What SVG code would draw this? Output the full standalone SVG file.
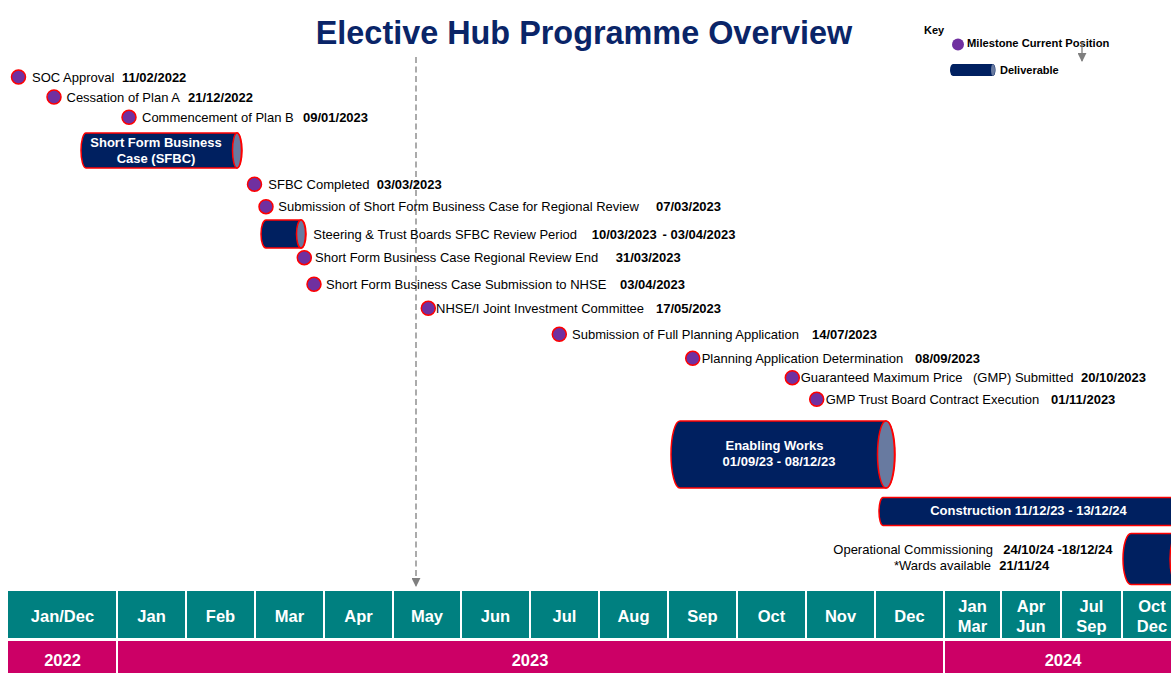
<svg xmlns="http://www.w3.org/2000/svg" width="1171" height="673" viewBox="0 0 1171 673">
<defs>
<style>
.t{font-family:"Liberation Sans",Arial,sans-serif;font-size:13px;fill:#000}
.b{font-weight:bold}
.ms{fill:#7030A0;stroke:#FF0000;stroke-width:1.5}
.body{fill:#002060;stroke:#FF0000;stroke-width:1.5}
.cap{fill:#687AA0;stroke:#FF0000;stroke-width:1.5}
.wt{font-family:"Liberation Sans",Arial,sans-serif;font-size:13px;font-weight:bold;fill:#fff;text-anchor:middle}
.mo{font-family:"Liberation Sans",Arial,sans-serif;font-size:16.5px;font-weight:bold;fill:#fff;text-anchor:middle}
.teal{fill:#008080}
.mag{fill:#CC0066}
</style>
<marker id="ah" viewBox="0 0 10 10" refX="9" refY="5" markerWidth="4" markerHeight="4" orient="auto" markerUnits="userSpaceOnUse">
<path d="M0,0 L10,5 L0,10 Z" fill="#7F7F7F"/>
</marker>
<marker id="ah2" viewBox="0 0 10 10" refX="9" refY="5" markerWidth="9" markerHeight="9" orient="auto" markerUnits="userSpaceOnUse">
<path d="M0,0 L10,5 L0,10 Z" fill="#7F7F7F"/>
</marker>
</defs>
<rect width="1171" height="673" fill="#fff"/>
<text x="584" y="44" text-anchor="middle" font-family="Liberation Sans, Arial, sans-serif" font-size="32.4" font-weight="bold" fill="#0A2568">Elective Hub Programme Overview</text>

<g id="key">
<text x="924" y="34" font-family="Liberation Sans, Arial, sans-serif" font-size="11" font-weight="bold">Key</text>
<circle cx="958" cy="44.5" r="6" fill="#7030A0"/>
<text x="967" y="47" font-family="Liberation Sans, Arial, sans-serif" font-size="11.2" font-weight="bold">Milestone Current Position</text>
<line x1="1082" y1="42" x2="1082" y2="61" stroke="#7F7F7F" stroke-width="1.3" marker-end="url(#ah2)"/>
<path d="M953,64 L993,64 A2.5,6 0 0 1 993,76 L953,76 A3,6 0 0 1 953,64 Z" fill="#002060"/>
<ellipse cx="993" cy="70" rx="2" ry="6" fill="#687AA0"/>
<text x="1000" y="73.5" font-family="Liberation Sans, Arial, sans-serif" font-size="11" font-weight="bold">Deliverable</text>
</g>

<g id="connectors">
<line x1="416" y1="57" x2="416" y2="586" stroke="#7F7F7F" stroke-width="1.3" stroke-dasharray="6,3.5" marker-end="url(#ah2)"/>
</g>

<g id="m1"><circle class="ms" cx="18.5" cy="77" r="7"/><text class="t" x="32" y="81.5">SOC Approval</text><text class="t b" x="122" y="81.5">11/02/2022</text></g>
<g id="m2"><circle class="ms" cx="54" cy="97" r="7"/><text class="t" x="66.5" y="101.5">Cessation of Plan A</text><text class="t b" x="188" y="101.5">21/12/2022</text></g>
<g id="m3"><circle class="ms" cx="129" cy="117.3" r="7"/><text class="t" x="142" y="121.5">Commencement of Plan B</text><text class="t b" x="303" y="121.5">09/01/2023</text></g>

<g id="sfbc">
<path class="body" d="M86,133 L237,133 A5,17.5 0 0 1 237,168 L86,168 A5,17.5 0 0 1 86,133 Z"/>
<ellipse class="cap" cx="237" cy="150.5" rx="4.5" ry="17.5"/>
<text class="wt" x="156" y="146.5">Short Form Business</text>
<text class="wt" x="156" y="162.5">Case (SFBC)</text>
</g>

<g id="m4"><circle class="ms" cx="254.5" cy="184.3" r="7"/><text class="t" x="268.3" y="188.7">SFBC Completed</text><text class="t b" x="376.7" y="188.7">03/03/2023</text></g>
<g id="m5"><circle class="ms" cx="266" cy="206.7" r="7"/><text class="t" x="278.3" y="211.2">Submission of Short Form Business Case for Regional Review</text><text class="t b" x="656" y="211.2">07/03/2023</text></g>

<g id="steering">
<path class="body" d="M266,220 L301,220 A5,14 0 0 1 301,248 L266,248 A5,14 0 0 1 266,220 Z"/>
<ellipse class="cap" cx="301" cy="234" rx="4.5" ry="14"/>
<text class="t" x="313.3" y="238.5">Steering &amp; Trust Boards SFBC Review Period</text>
<text class="t b" x="591.7" y="238.5">10/03/2023<tspan x="662.5">- 03/04/2023</tspan></text>
</g>

<g id="m6"><circle class="ms" cx="304.3" cy="257.7" r="7"/><text class="t" x="315" y="262.2">Short Form Business Case Regional Review End</text><text class="t b" x="615.7" y="262.2">31/03/2023</text></g>
<g id="m7"><circle class="ms" cx="314" cy="284.3" r="7"/><text class="t" x="326" y="288.8">Short Form Business Case Submission to NHSE</text><text class="t b" x="620" y="288.8">03/04/2023</text></g>
<g id="m8"><circle class="ms" cx="428.3" cy="308.3" r="7"/><text class="t" x="436" y="312.8">NHSE/I Joint Investment Committee</text><text class="t b" x="656" y="312.8">17/05/2023</text></g>
<g id="m9"><circle class="ms" cx="559.3" cy="334.3" r="7"/><text class="t" x="572" y="338.8">Submission of Full Planning Application</text><text class="t b" x="812" y="338.8">14/07/2023</text></g>
<g id="m10"><circle class="ms" cx="692.7" cy="358.3" r="7"/><text class="t" x="701.7" y="362.8">Planning Application Determination</text><text class="t b" x="915" y="362.8">08/09/2023</text></g>
<g id="m11"><circle class="ms" cx="792.3" cy="377.7" r="7"/><text class="t" x="800.7" y="382.2">Guaranteed Maximum Price<tspan x="973">(GMP) Submitted</tspan></text><text class="t b" x="1081" y="382.2">20/10/2023</text></g>
<g id="m12"><circle class="ms" cx="816.7" cy="399.3" r="7"/><text class="t" x="825.7" y="403.8">GMP Trust Board Contract Execution</text><text class="t b" x="1051" y="403.8">01/11/2023</text></g>

<g id="enabling">
<path class="body" d="M680,421 L886,421 A9,33.5 0 0 1 886,488 L680,488 A9,33.5 0 0 1 680,421 Z"/>
<ellipse class="cap" cx="886" cy="454.5" rx="8.5" ry="33.5"/>
<text class="wt" x="774.5" y="450">Enabling Works</text>
<text class="wt" x="779" y="466">01/09/23 - 08/12/23</text>
</g>

<g id="construction">
<path class="body" d="M883,497.5 L1185,497.5 L1185,525.5 L883,525.5 A4,14 0 0 1 883,497.5 Z"/>
<text class="wt" x="1028.5" y="515">Construction 11/12/23  - 13/12/24</text>
</g>

<g id="operational">
<path class="body" d="M1131,533.5 L1178,533.5 A8,25.5 0 0 1 1178,584.5 L1131,584.5 A8,25.5 0 0 1 1131,533.5 Z"/>
<ellipse class="cap" cx="1178" cy="559" rx="8" ry="25.5"/>
<text class="t" x="833.3" y="554">Operational Commissioning</text>
<text class="t b" x="1003.3" y="554">24/10/24 -18/12/24</text>
<text class="t" x="894" y="570">*Wards available</text>
<text class="t b" x="999.3" y="570">21/11/24</text>
</g>

<g id="timeline">
<rect class="teal" x="8" y="591" width="1170" height="47"/>
<g stroke="#fff" stroke-width="2">
<line x1="117" y1="590" x2="117" y2="640"/>
<line x1="186" y1="590" x2="186" y2="640"/>
<line x1="255" y1="590" x2="255" y2="640"/>
<line x1="324" y1="590" x2="324" y2="640"/>
<line x1="393" y1="590" x2="393" y2="640"/>
<line x1="461" y1="590" x2="461" y2="640"/>
<line x1="530" y1="590" x2="530" y2="640"/>
<line x1="599" y1="590" x2="599" y2="640"/>
<line x1="668" y1="590" x2="668" y2="640"/>
<line x1="737" y1="590" x2="737" y2="640"/>
<line x1="806" y1="590" x2="806" y2="640"/>
<line x1="875" y1="590" x2="875" y2="640"/>
<line x1="944" y1="590" x2="944" y2="640"/>
<line x1="1001" y1="590" x2="1001" y2="640"/>
<line x1="1061" y1="590" x2="1061" y2="640"/>
<line x1="1122" y1="590" x2="1122" y2="640"/>
</g>
<text class="mo" x="62.5" y="622">Jan/Dec</text>
<text class="mo" x="151.5" y="622">Jan</text>
<text class="mo" x="220.5" y="622">Feb</text>
<text class="mo" x="289.5" y="622">Mar</text>
<text class="mo" x="358.5" y="622">Apr</text>
<text class="mo" x="427" y="622">May</text>
<text class="mo" x="495.5" y="622">Jun</text>
<text class="mo" x="564.5" y="622">Jul</text>
<text class="mo" x="633.5" y="622">Aug</text>
<text class="mo" x="702.5" y="622">Sep</text>
<text class="mo" x="771.5" y="622">Oct</text>
<text class="mo" x="840.5" y="622">Nov</text>
<text class="mo" x="909.5" y="622">Dec</text>
<text class="mo" x="972.5" y="612">Jan<tspan x="972.5" y="632">Mar</tspan></text>
<text class="mo" x="1031" y="612">Apr<tspan x="1031" y="632">Jun</tspan></text>
<text class="mo" x="1091.5" y="612">Jul<tspan x="1091.5" y="632">Sep</tspan></text>
<text class="mo" x="1152" y="612">Oct<tspan x="1152" y="632">Dec</tspan></text>
<rect class="mag" x="8" y="641" width="1170" height="32"/>
<line x1="117" y1="640" x2="117" y2="673" stroke="#fff" stroke-width="2"/>
<line x1="944" y1="640" x2="944" y2="673" stroke="#fff" stroke-width="2"/>
<text class="mo" x="62.5" y="666" font-size="16">2022</text>
<text class="mo" x="530" y="666">2023</text>
<text class="mo" x="1063" y="666">2024</text>
</g>
</svg>
